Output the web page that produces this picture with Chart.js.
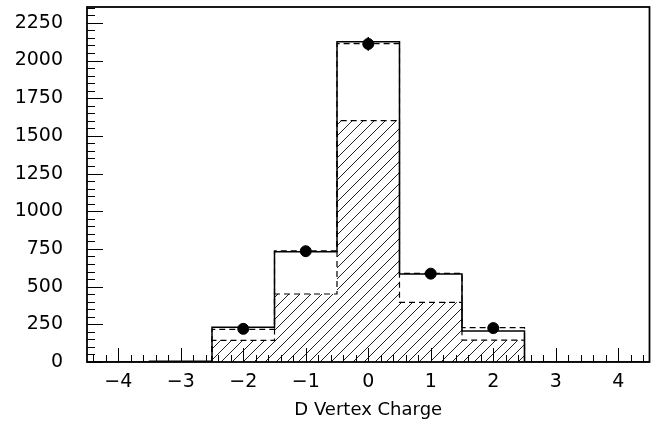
<!DOCTYPE html>
<html lang="en">
  <head>
    <meta charset="utf-8" />
    <script src="https://cdn.jsdelivr.net/npm/chart.js/dist/chart.umd.min.js"></script>
    <style>
      * { margin: 0; padding: 0; }
      body { background: #fff; }
      .chartBox { width: 656px; height: 426px; }
    </style>
  </head>
  <body>
    <div class="chartBox"><canvas id="myChart"></canvas></div>
    <script>
      // histogram bins (centres), counts
      const binCenters = [-4, -3, -2, -1, 0, 1, 2, 3, 4];
      const solidCounts = [0, 5, 230, 732, 2125, 584, 206, 0, 0];
      const mcCenters = [-2, -1, 0, 1, 2];
      const dashedCounts = [217, 738, 2112, 588, 228];
      const hatchedCounts = [143, 451, 1601, 396, 145];
      const dataCounts = [220, 735, 2110, 586, 225];
      const dataErrors = [15, 27, 46, 24, 15];
      const xTicks = [-4, -3, -2, -1, 0, 1, 2, 3, 4];
      const yStep = 250;

      // step outline of a histogram
      function steps(centers, counts, closed) {
        const pts = [];
        if (closed) pts.push({ x: centers[0] - 0.5, y: 0 });
        centers.forEach((c, i) => {
          pts.push({ x: c - 0.5, y: counts[i] });
          pts.push({ x: c + 0.5, y: counts[i] });
        });
        if (closed) pts.push({ x: centers[centers.length - 1] + 0.5, y: 0 });
        return pts;
      }

      // hatch pattern ///
      function hatch() {
        const s = 11;
        const c = document.createElement("canvas");
        c.width = s;
        c.height = s;
        const g = c.getContext("2d");
        g.strokeStyle = "#222";
        g.lineWidth = 1;
        g.beginPath();
        g.moveTo(-1, s + 1);
        g.lineTo(s + 1, -1);
        g.moveTo(-1, 1);
        g.lineTo(1, -1);
        g.moveTo(s - 1, s + 1);
        g.lineTo(s + 1, s - 1);
        g.stroke();
        return document.createElement("canvas").getContext("2d").createPattern(c, "repeat");
      }

      // frame, inner tick marks and error bars
      const frame = {
        id: "frame",
        afterDatasetsDraw(chart) {
          const { ctx, chartArea: a, scales } = chart;
          const x = scales.x, y = scales.y;
          ctx.save();
          ctx.strokeStyle = "#000";
          // error bars
          ctx.lineWidth = 1.5;
          mcCenters.forEach((c, i) => {
            const px = x.getPixelForValue(c);
            ctx.beginPath();
            ctx.moveTo(px, y.getPixelForValue(dataCounts[i] - dataErrors[i]));
            ctx.lineTo(px, y.getPixelForValue(dataCounts[i] + dataErrors[i]));
            ctx.stroke();
          });
          // ticks
          ctx.lineWidth = 1;
          ctx.beginPath();
          for (let i = 0; i <= 45; i++) {
            const v = -4.4 + i * 0.2;
            if (v > 4.45) break;
            const major = Math.abs(v - Math.round(v)) < 0.01;
            const px = Math.round(x.getPixelForValue(v)) + 0.5;
            ctx.moveTo(px, a.bottom);
            ctx.lineTo(px, a.bottom - (major ? 14 : 7));
          }
          for (let v = 0; v <= y.max; v += 50) {
            const major = v % yStep === 0;
            const py = Math.round(y.getPixelForValue(v)) + 0.5;
            ctx.moveTo(a.left, py);
            ctx.lineTo(a.left + (major ? 16 : 8), py);
          }
          ctx.stroke();
          // box
          ctx.lineWidth = 1.8;
          ctx.strokeRect(a.left, a.top, a.right - a.left, a.bottom - a.top);
          ctx.restore();
        },
      };

      const config = {
        type: "scatter",
        data: {
          datasets: [
            {
              data: mcCenters.map((c, i) => ({ x: c, y: dataCounts[i] })),
              backgroundColor: "#000",
              borderColor: "#000",
              pointRadius: 5.5,
              showLine: false,
              order: 0,
            },
            {
              data: steps(binCenters, solidCounts, false),
              showLine: true,
              borderColor: "#000",
              borderWidth: 1.5,
              pointRadius: 0,
              fill: false,
              order: 1,
            },
            {
              data: steps(mcCenters, dashedCounts, true),
              showLine: true,
              borderColor: "#000",
              borderWidth: 1.2,
              borderDash: [6, 4],
              pointRadius: 0,
              fill: false,
              order: 2,
            },
            {
              data: steps(mcCenters, hatchedCounts, true),
              showLine: true,
              borderColor: "#000",
              borderWidth: 1.2,
              borderDash: [6, 4],
              backgroundColor: hatch(),
              pointRadius: 0,
              fill: "origin",
              order: 3,
            },
          ],
        },
        options: {
          responsive: true,
          maintainAspectRatio: false,
          animation: false,
          layout: { padding: { top: 7, right: 4, left: 0, bottom: 0 } },
          plugins: { legend: { display: false }, tooltip: { enabled: false } },
          scales: {
            x: {
              type: "linear",
              min: -4.5,
              max: 4.5,
              afterFit: (s) => {
                s.height = 64;
                s.paddingLeft = 0;
                s.paddingRight = 0;
              },
              afterBuildTicks: (s) => { s.ticks = xTicks.map((v) => ({ value: v })); },
              grid: { display: false, drawTicks: false },
              border: { display: false },
              ticks: {
                padding: 9,
                color: "#000",
                font: { family: "DejaVu Sans", size: 19 },
                callback: (v) => (v < 0 ? "\u2212" + Math.abs(v) : "" + v),
              },
              title: {
                display: true,
                text: "D Vertex Charge",
                color: "#000",
                font: { family: "DejaVu Sans", size: 18 },
                padding: { top: 0, bottom: 5 },
              },
            },
            y: {
              min: 0,
              max: 2355,
              afterFit: (s) => {
                s.width = 87;
                s.paddingTop = 0;
                s.paddingBottom = 0;
              },
              grid: { display: false, drawTicks: false },
              border: { display: false },
              ticks: {
                stepSize: yStep,
                includeBounds: false,
                padding: 24,
                color: "#000",
                font: { family: "DejaVu Sans", size: 19 },
                callback: (v) => "" + v,
              },
            },
          },
        },
        plugins: [frame],
      };

      const myChart = new Chart(document.getElementById("myChart"), config);
    </script>
  </body>
</html>
